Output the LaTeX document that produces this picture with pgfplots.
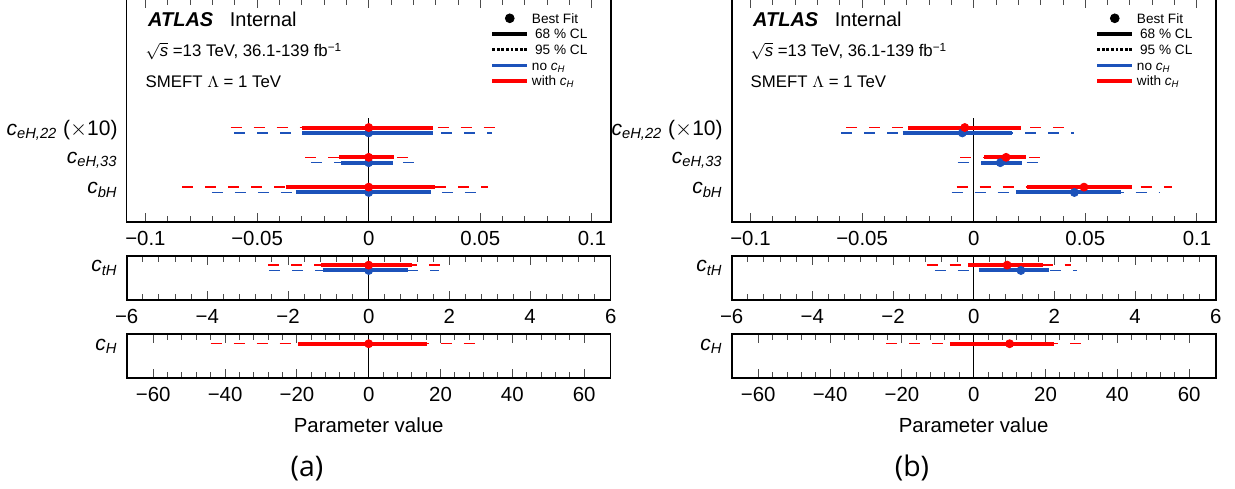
\documentclass[border=0pt]{standalone}
\usepackage{pgfplots}
\pgfplotsset{compat=1.18}
\usepackage{pgfplotstable}
\usepackage{fontspec}
\setmainfont{Liberation Sans}
\newfontfamily\opensans{Open Sans}
\definecolor{rred}{RGB}{255,0,0}
\definecolor{rblue}{RGB}{28,82,186}

% columns: y position, best fit, 68% low/high, 95% low/high
\pgfplotstableread{
y best lo68 hi68 lo95 hi95
3.09 0 -0.0300 0.0289 -0.0618 0.0573
2.09 0 -0.0133 0.0115 -0.0285 0.0194
1.09 0 -0.0370 0.0298 -0.0835 0.0536
}\aTopRed
\pgfplotstableread{
y best lo68 hi68 lo95 hi95
2.91 0 -0.0297 0.0289 -0.0603 0.0551
1.91 0 -0.0123 0.0110 -0.0258 0.0207
0.91 0 -0.0326 0.0279 -0.0703 0.0506
}\aTopBlue
\pgfplotstableread{
y best lo68 hi68 lo95 hi95
1.09 0 -1.18 1.08 -2.49 2.04
}\aMidRed
\pgfplotstableread{
y best lo68 hi68 lo95 hi95
0.91 0 -1.14 0.98 -2.46 1.75
}\aMidBlue
\pgfplotstableread{
y best lo68 hi68 lo95 hi95
1.09 0 -19.7 16.3 -44.0 30.5
}\aBotRed
\pgfplotstableread{
y best lo68 hi68 lo95 hi95
3.09 -0.0040 -0.0293 0.0213 -0.0572 0.0449
2.09 0.0145 0.0048 0.0233 -0.0061 0.0304
1.09 0.0494 0.0239 0.0707 -0.0076 0.0889
}\bTopRed
\pgfplotstableread{
y best lo68 hi68 lo95 hi95
2.91 -0.0051 -0.0318 0.0173 -0.0594 0.0449
1.91 0.0119 0.0034 0.0216 -0.0072 0.0297
0.91 0.0451 0.0189 0.0660 -0.0099 0.0833
}\bTopBlue
\pgfplotstableread{
y best lo68 hi68 lo95 hi95
1.09 0.83 -0.13 1.72 -1.17 2.42
}\bMidRed
\pgfplotstableread{
y best lo68 hi68 lo95 hi95
0.91 1.17 0.12 1.87 -0.96 2.56
}\bMidBlue
\pgfplotstableread{
y best lo68 hi68 lo95 hi95
1.09 10.0 -6.6 22.5 -24.4 33.1
}\bBotRed

\newcommand{\series}[2]{%
  % 95% interval: dashed, drawn from its low end to its high end
  \addplot[draw=none, forget plot, error bars/.cd, x dir=plus, x explicit, error mark=none,
    error bar style={draw=#2, line width=0.65pt, dash pattern=on 5.5pt off 6pt}]
    table[x=lo95, y=y, x error plus expr=\thisrow{hi95}-\thisrow{lo95}] {#1};
  % 68% interval: thick solid
  \addplot[draw=none, forget plot, error bars/.cd, x dir=plus, x explicit, error mark=none,
    error bar style={draw=#2, line width=2pt, solid}]
    table[x=lo68, y=y, x error plus expr=\thisrow{hi68}-\thisrow{lo68}] {#1};
  % best fit
  \addplot[only marks, forget plot, mark=*, mark size=2pt, draw=#2, fill=#2,
    mark options={solid}] table[x=best, y=y] {#1};
}

\newcommand{\lf}{\fontsize{6.8}{8}\selectfont}
% legend cell: fixed invisible box, sample + text in one picture
\newcommand{\legtext}[2]{\path[draw=none, fill=none] (0pt,-1.5pt) rectangle (0.01pt,5.5pt);
  \node[anchor=base west, inner sep=0pt, draw=none, fill=none, text=black, font=\lf] at (#1,0pt) {#2};}

\pgfplotsset{
  panel/.style={scale only axis, width=242pt, clip=false,
    axis line style={line width=0.8pt},
    tick align=inside, xtick pos=both, ytick pos=left,
    major tick length=4.5pt, minor tick length=3pt,
    tick style={black!70, line width=0.5pt},
    ytick style={draw=none},
    minor x tick num=4,
    xticklabel style={font=\fontsize{10.2}{12}\selectfont, anchor=base, yshift=-11.85pt, inner sep=0pt},
    yticklabel style={font=\fontsize{10.5}{12}\selectfont, anchor=east, inner sep=0pt, xshift=-4.35pt},
  },
  toppanel/.style={panel, height=111.5pt, ymin=-0.0805, ymax=7.403,
    xmin=-0.1084, xmax=0.1084,
    xtick={-0.1,-0.05,0,0.05,0.1}, xticklabels={−0.1,−0.05,0,0.05,0.1},
    ytick={1,2,3},
    yticklabels={\textit{c}\textsubscript{\itshape bH},
                 \textit{c}\textsubscript{\itshape eH,33},
                 \textit{c}\textsubscript{\itshape eH,22} ($\times$10)},
    legend style={at={(axis description cs:0.752,0.9408)}, anchor=north west,
      draw=none, fill=none, inner sep=0pt, outer sep=0pt, row sep=0.85pt, column sep=0pt,
      font=\lf,
      nodes={inner sep=0pt, anchor=base west, text height=5pt, text depth=1.5pt, font=\lf}},
  },
  midpanel/.style={panel, height=22pt, ymin=-0.0805, ymax=1.396,
    xmin=-6, xmax=6, xtick={-6,-4,...,6}, xticklabels={−6,−4,−2,0,2,4,6},
    ytick={1}, yticklabels={\textit{c}\textsubscript{\itshape tH}},
  },
  botpanel/.style={panel, height=22pt, ymin=-0.060, ymax=1.416,
    xmin=-67.4, xmax=67.4, xtick={-60,-40,...,60}, xticklabels={−60,−40,−20,0,20,40,60},
    ytick={1}, yticklabels={\textit{c}\textsubscript{\itshape H}},
    xlabel={Parameter value},
    xlabel style={font=\fontsize{10.2}{12}\selectfont, at={(axis description cs:0.5,-1.234)}, anchor=base, inner sep=0pt},
  },
}

\newcommand{\legendentries}{%
  \addlegendimage{legend image code/.code={\fill[black] (8.75pt,2.45pt) circle (2.2pt);
      \legtext{19.85pt}{Best Fit}}}
  \addlegendentry{}
  \addlegendimage{legend image code/.code={\draw[black, line width=1.6pt] (0pt,2.45pt) -- (17.5pt,2.45pt);
      \legtext{21.45pt}{68 \% CL}}}
  \addlegendentry{}
  \addlegendimage{legend image code/.code={\draw[black, line width=1.6pt, dash pattern=on 1.4pt off 0.9pt] (0pt,2.45pt) -- (17.5pt,2.45pt);
      \legtext{21.45pt}{95 \% CL}}}
  \addlegendentry{}
  \addlegendimage{legend image code/.code={\draw[rblue, line width=1.6pt] (0pt,2.45pt) -- (17.5pt,2.45pt);
      \legtext{19.85pt}{no \textit{c}\textsubscript{\itshape H}}}}
  \addlegendentry{}
  \addlegendimage{legend image code/.code={\draw[rred, line width=1.6pt] (0pt,2.45pt) -- (17.5pt,2.45pt);
      \legtext{19.85pt}{with \textit{c}\textsubscript{\itshape H}}}}
  \addlegendentry{}
}

\newcommand{\toptexts}{%
  \node[anchor=base west, inner sep=0pt, font=\fontsize{10}{12}\selectfont] at (axis description cs:0.0434,0.8758)
    {\textbf{\textit{ATLAS}}\hspace{8.3pt}Internal};
  \node[anchor=base west, inner sep=0pt, font=\fontsize{8.4}{10}\selectfont] at (axis description cs:0.0384,0.7413)
    {$\sqrt{\mbox{\itshape s}}$ =13 TeV, 36.1-139 fb\textsuperscript{−1}};
  \node[anchor=base west, inner sep=0pt, font=\fontsize{8.4}{10}\selectfont] at (axis description cs:0.0384,0.604)
    {SMEFT $\Lambda$ = 1 TeV};
}

\begin{document}
\begin{tikzpicture}
% ---------------- panel (a) ----------------
\begin{axis}[toppanel, at={(63.35pt,-111pt)}, anchor=south west]
  \legendentries
  \addplot[black, line width=0.7pt, forget plot] coordinates {(0,-0.0805) (0,3.40)};
  \series{\aTopBlue}{rblue}
  \series{\aTopRed}{rred}
  \toptexts
\end{axis}
\begin{axis}[midpanel, at={(63.35pt,-150pt)}, anchor=south west]
  \addplot[black, line width=0.7pt, forget plot] coordinates {(0,-0.0805) (0,1.396)};
  \series{\aMidBlue}{rblue}
  \series{\aMidRed}{rred}
\end{axis}
\begin{axis}[botpanel, at={(63.35pt,-189pt)}, anchor=south west]
  \addplot[black, line width=0.7pt, forget plot] coordinates {(0,-0.060) (0,1.416)};
  \series{\aBotRed}{rred}
\end{axis}
% ---------------- panel (b) ----------------
\begin{axis}[toppanel, at={(365.85pt,-111pt)}, anchor=south west]
  \legendentries
  \addplot[black, line width=0.7pt, forget plot] coordinates {(0,-0.0805) (0,3.40)};
  \series{\bTopBlue}{rblue}
  \series{\bTopRed}{rred}
  \toptexts
\end{axis}
\begin{axis}[midpanel, at={(365.85pt,-150pt)}, anchor=south west]
  \addplot[black, line width=0.7pt, forget plot] coordinates {(0,-0.0805) (0,1.396)};
  \series{\bMidBlue}{rblue}
  \series{\bMidRed}{rred}
\end{axis}
\begin{axis}[botpanel, at={(365.85pt,-189pt)}, anchor=south west]
  \addplot[black, line width=0.7pt, forget plot] coordinates {(0,-0.060) (0,1.416)};
  \series{\bBotRed}{rred}
\end{axis}
\node[anchor=base, inner sep=0pt, font=\opensans\fontsize{14.2}{16}\selectfont] at (153.5pt,-238pt) {(a)};
\node[anchor=base, inner sep=0pt, font=\opensans\fontsize{14.2}{16}\selectfont] at (456pt,-238pt) {(b)};
\pgfresetboundingbox
\path[use as bounding box] (0pt,0pt) rectangle (617.5pt,-244pt);
\end{tikzpicture}
\end{document}
